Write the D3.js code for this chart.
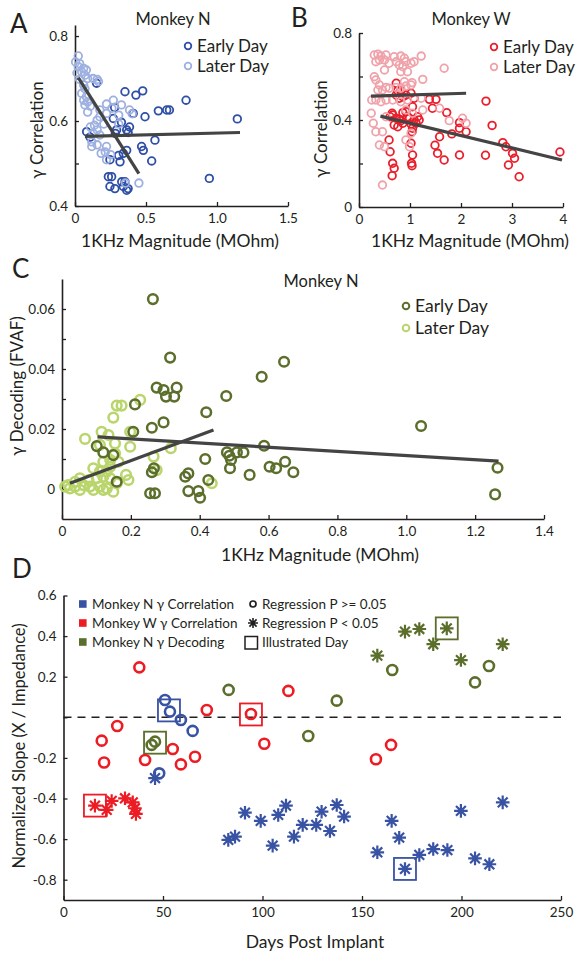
<!DOCTYPE html>
<html lang="en">
  <head>
    <meta charset="UTF-8" />
    <title>Impedance vs gamma</title>
    <style>
      body { margin: 0; background: #fff; }
      svg text { font-family: Lato, "Open Sans", sans-serif; fill: #231f20; }
    </style>
  </head>
  <body>
    <div class="chart"></div>
    <script src="https://d3js.org/d3.v7.min.js"></script>
    <script>
      // ---- panel A: Monkey N, gamma correlation vs 1KHz magnitude
      const aEarly = [
        [0.352,0.669],[0.429,0.661],[0.477,0.671],[0.782,0.649],[0.587,0.624],[0.646,0.626],[0.665,0.626],
        [0.493,0.610],[0.410,0.618],[0.270,0.606],[1.143,0.605],[0.364,0.579],[0.374,0.573],[0.293,0.579],
        [0.284,0.571],[0.563,0.555],[0.469,0.540],[0.481,0.531],[0.540,0.506],[0.364,0.531],[0.340,0.524],
        [0.317,0.504],[0.246,0.509],[0.082,0.575],[0.106,0.562],[0.235,0.469],[0.258,0.469],[0.246,0.446],
        [0.281,0.441],[0.329,0.457],[0.352,0.457],[0.340,0.446],[0.364,0.437],[0.374,0.441],[0.946,0.465],
        [0.152,0.689],[0.279,0.632],[0.384,0.586],[0.308,0.519],[0.327,0.597]
      ];
      const aLater = [
        [0.023,0.753],[0.004,0.739],[0.033,0.735],[0.023,0.728],[0.061,0.724],[0.080,0.720],[0.047,0.716],
        [0.014,0.713],[0.070,0.708],[0.089,0.700],[0.033,0.698],[0.127,0.700],[0.156,0.698],[0.165,0.693],
        [0.061,0.685],[0.070,0.676],[0.047,0.665],[0.080,0.657],[0.061,0.649],[0.089,0.645],[0.070,0.638],
        [0.108,0.635],[0.089,0.621],[0.175,0.626],[0.222,0.640],[0.260,0.630],[0.327,0.638],[0.308,0.614],
        [0.222,0.618],[0.175,0.610],[0.156,0.602],[0.203,0.593],[0.137,0.590],[0.108,0.586],[0.156,0.579],
        [0.127,0.571],[0.175,0.567],[0.118,0.551],[0.156,0.544],[0.118,0.540],[0.222,0.540],[0.213,0.527],
        [0.184,0.524],[0.251,0.521],[0.222,0.509],[0.384,0.626],[0.403,0.617],[0.355,0.454],[0.450,0.454],
        [0.270,0.649],[0.308,0.593]
      ];
      const aFitEarly = [[0.070,0.564],[1.162,0.573]];
      const aFitLater = [[0.023,0.702],[0.450,0.476]];
      const aXTicks = [0, 0.5, 1.0, 1.5];
      const aXLabels = ["0", "0.5", "1.0", "1.5"];
      const aYTicks = [0.4, 0.5, 0.6, 0.7, 0.8];
      const aYLabels = ["0.4", "", "0.6", "", "0.8"];

      // ---- panel B: Monkey W
      const bEarly = [
        [0.73,0.569],[0.76,0.535],[0.82,0.535],[0.73,0.515],[0.79,0.50],[0.86,0.507],[0.92,0.515],
        [1.02,0.523],[1.08,0.50],[1.05,0.461],[0.92,0.438],[0.86,0.434],[0.65,0.431],[0.66,0.423],
        [0.61,0.415],[0.73,0.408],[0.79,0.403],[0.82,0.397],[0.86,0.385],[0.69,0.377],[0.76,0.369],
        [0.95,0.415],[0.99,0.408],[1.02,0.382],[1.08,0.40],[1.12,0.385],[1.15,0.415],[1.18,0.40],
        [1.05,0.362],[1.04,0.346],[0.59,0.308],[0.61,0.254],[0.66,0.201],[0.69,0.178],[0.65,0.144],
        [1.02,0.293],[1.05,0.239],[1.03,0.201],[1.04,0.19],[1.38,0.495],[1.51,0.495],[1.44,0.454],
        [1.72,0.434],[1.82,0.336],[1.49,0.284],[1.54,0.247],[1.58,0.323],[1.67,0.216],[1.97,0.388],
        [1.97,0.239],[2.10,0.346],[2.49,0.487],[2.61,0.375],[2.48,0.238],[2.82,0.296],[2.88,0.277],
        [2.93,0.193],[3.01,0.247],[3.05,0.224],[3.14,0.139],[3.94,0.253],[1.97,0.362]
      ];
      const bLater = [
        [0.30,0.699],[0.37,0.703],[0.43,0.694],[0.53,0.699],[0.69,0.691],[0.82,0.694],[0.89,0.684],
        [0.92,0.668],[1.02,0.661],[1.08,0.668],[1.22,0.694],[0.33,0.668],[0.40,0.676],[0.50,0.676],
        [0.59,0.661],[0.73,0.668],[0.79,0.653],[0.86,0.645],[0.50,0.63],[0.82,0.622],[0.95,0.622],
        [1.25,0.587],[1.67,0.638],[0.30,0.599],[0.33,0.584],[0.40,0.561],[0.37,0.538],[0.53,0.55],
        [0.59,0.546],[0.73,0.55],[0.82,0.546],[0.92,0.556],[1.02,0.561],[0.89,0.576],[1.04,0.572],
        [0.33,0.492],[0.43,0.484],[0.53,0.492],[0.66,0.492],[0.82,0.484],[0.95,0.492],[1.22,0.50],
        [1.58,0.454],[2.03,0.408],[2.10,0.385],[1.77,0.397],[0.24,0.431],[0.28,0.385],[0.33,0.346],
        [0.46,0.346],[0.40,0.285],[0.50,0.277],[0.92,0.308],[0.99,0.277],[1.02,0.339],[0.53,0.415],
        [0.46,0.101],[0.92,0.446],[1.05,0.431],[1.25,0.446],[0.46,0.538],[0.25,0.492]
      ];
      const bFitEarly = [[0.42,0.418],[3.98,0.216]];
      const bFitLater = [[0.235,0.510],[2.10,0.523]];
      const bXTicks = [0, 1, 2, 3, 4];
      const bXLabels = ["0", "1", "2", "3", "4"];
      const bYTicks = [0, 0.2, 0.4, 0.6, 0.8];
      const bYLabels = ["0", "", "0.4", "", "0.8"];

      // ---- panel C: Monkey N, gamma decoding
      const cEarly = [
        [0.264,0.0633],[0.314,0.0438],[0.275,0.0338],[0.295,0.033],[0.302,0.0308],[0.326,0.0308],
        [0.333,0.0338],[0.212,0.0282],[0.261,0.0204],[0.295,0.0222],[0.207,0.0191],[0.101,0.0143],
        [0.12,0.0122],[0.149,0.0113],[0.159,0.0024],[0.261,0.0056],[0.267,0.0069],[0.256,-0.0014],
        [0.27,-0.0014],[0.358,0.0041],[0.367,0.0052],[0.367,-0.0007],[0.396,-0.0007],[0.401,-0.0029],
        [0.419,0.0256],[0.416,0.01],[0.425,0.003],[0.477,0.031],[0.479,0.0122],[0.486,0.0111],
        [0.491,0.0097],[0.488,0.0069],[0.508,0.0122],[0.527,0.0122],[0.545,0.0047],[0.58,0.0374],
        [0.587,0.0144],[0.603,0.0074],[0.622,0.0069],[0.648,0.0091],[0.645,0.0424],[0.672,0.0056],
        [1.043,0.021],[1.265,0.0071],[1.258,-0.0018]
      ];
      const cLater = [
        [0.067,0.0167],[0.115,0.0191],[0.135,0.018],[0.149,0.0238],[0.159,0.0278],[0.173,0.0278],
        [0.227,0.0297],[0.198,0.0191],[0.198,0.0141],[0.154,0.0119],[0.164,0.0091],[0.14,0.0097],
        [0.266,0.0108],[0.275,0.0063],[0.316,0.0136],[0.186,0.0047],[0.193,0.003],[0.435,0.0019],
        [0.009,0.0008],[0.023,0.0002],[0.038,0.0008],[0.052,-0.0003],[0.062,0.0013],[0.081,0.0008],
        [0.091,-0.0003],[0.11,0.0008],[0.12,-0.0003],[0.13,0.0002],[0.149,-0.0009],[0.077,0.003],
        [0.101,0.0036],[0.12,0.0041],[0.052,0.0036],[0.038,0.0024],[0.018,0.0013],[0.14,0.0036],
        [0.159,0.0019],[0.11,0.0058],[0.091,0.0069],[0.13,0.0058],[0.12,0.0091],[0.14,0.0074],
        [0.154,0.0152],[0.11,0.0147]
      ];
      const cFitEarly = [[0.103,0.0174],[1.268,0.0093]];
      const cFitLater = [[0.023,0.0019],[0.44,0.0197]];
      const cXTicks = [0, 0.2, 0.4, 0.6, 0.8, 1.0, 1.2, 1.4];
      const cXLabels = ["0", "0.2", "0.4", "0.6", "0.8", "1.0", "1.2", "1.4"];
      const cYTicks = [0, 0.01, 0.02, 0.03, 0.04, 0.05, 0.06];
      const cYLabels = ["0", "", "0.02", "", "0.04", "", "0.06"];

      // ---- panel D: normalized slope vs days post implant
      const dNCorrCircle = [[51.0,0.085],[53.5,0.028],[59.0,-0.013],[64.9,-0.067],[48.1,-0.276]];
      const dNCorrStar = [
        [46.0,-0.30],[82.8,-0.604],[86.2,-0.588],[91.2,-0.47],[99.1,-0.51],[105.1,-0.632],[107.9,-0.481],
        [111.8,-0.435],[115.8,-0.588],[120.2,-0.53],[127.0,-0.53],[129.7,-0.465],[133.9,-0.56],
        [137.3,-0.432],[141.0,-0.489],[157.7,-0.665],[164.9,-0.51],[168.7,-0.593],[171.6,-0.747],
        [178.8,-0.678],[185.8,-0.649],[192.9,-0.654],[199.7,-0.461],[206.8,-0.695],[214.0,-0.724],
        [220.7,-0.419]
      ];
      const dWCorrCircle = [
        [38.1,0.246],[27.0,-0.043],[19.2,-0.115],[20.4,-0.223],[41.0,-0.21],[54.9,-0.156],[59.0,-0.232],
        [66.1,-0.194],[72.0,0.036],[94.2,0.016],[100.9,-0.13],[113.0,0.13],[157.0,-0.207],[164.6,-0.136]
      ];
      const dWCorrStar = [[15.8,-0.435],[21.7,-0.456],[24.2,-0.412],[30.9,-0.399],[34.8,-0.419],[35.9,-0.448],[36.4,-0.476]];
      const dNDecCircle = [[83.0,0.135],[46.0,-0.12],[44.3,-0.136],[137.3,0.082],[123.0,-0.092],[165.2,0.233],[206.8,0.172],[213.8,0.253]];
      const dNDecStar = [[157.7,0.304],[171.6,0.422],[178.8,0.435],[185.8,0.36],[192.6,0.438],[199.7,0.282],[220.7,0.36]];
      const dNCorrDays = [[53.0,0.034],[171.6,-0.747]];
      const dWCorrDays = [[15.8,-0.435],[94.2,0.014]];
      const dNDecDays = [[46.0,-0.125],[192.6,0.438]];
      const dXTicks = [0, 50, 100, 150, 200, 250];
      const dYTicks = [-0.8, -0.6, -0.4, -0.2, 0, 0.2, 0.4, 0.6];
      const dYLabels = ["-0.8", "-0.6", "-0.4", "-0.2", "", "0.2", "0.4", "0.6"];

      const dark = "#231f20";
      const fitColor = "#444";

      const svg = d3.select(".chart").append("svg").attr("width", 576).attr("height", 954);

      const starPath = (s) => {
        const d = s * 0.72;
        return `M${-s},0H${s}M0,${-s}V${s}M${-d},${-d}L${d},${d}M${-d},${d}L${d},${-d}`;
      };

      const drawAxes = (xScale, yScale, xTicks, xLabels, yTicks, yLabels) => {
        const y0 = yScale.range()[0];
        const x0 = xScale.range()[0];
        const xAxis = svg
          .append("g")
          .attr("transform", `translate(0,${y0})`)
          .call(
            d3.axisBottom(xScale).tickValues(xTicks).tickFormat((d, i) => xLabels[i])
              .tickSizeInner(-4).tickSizeOuter(0).tickPadding(7)
          );
        const yAxis = svg
          .append("g")
          .attr("transform", `translate(${x0},0)`)
          .call(
            d3.axisLeft(yScale).tickValues(yTicks).tickFormat((d, i) => yLabels[i])
              .tickSizeInner(-4).tickSizeOuter(0).tickPadding(7)
          );
        [xAxis, yAxis].forEach((a) => {
          a.attr("font-family", null).attr("font-size", 13.5);
          a.select(".domain").attr("stroke", dark).attr("stroke-width", 1.6);
          a.selectAll(".tick line").attr("stroke", dark).attr("stroke-width", 1.3);
          a.selectAll(".tick text").attr("fill", dark);
        });
      };

      const drawCircles = (xScale, yScale, data, color, r, sw) => {
        svg.append("g")
          .selectAll("circle")
          .data(data)
          .join("circle")
          .attr("cx", (d) => xScale(d[0]))
          .attr("cy", (d) => yScale(d[1]))
          .attr("r", r)
          .attr("fill", "none")
          .attr("stroke", color)
          .attr("stroke-width", sw);
      };

      const drawFit = (xScale, yScale, pts) => {
        svg.append("path")
          .attr("d", d3.line().x((d) => xScale(d[0])).y((d) => yScale(d[1]))(pts))
          .attr("fill", "none")
          .attr("stroke", fitColor)
          .attr("stroke-width", 3.2);
      };

      const addText = (x, y, str, size, anchor = "start", rotate = false) => {
        svg.append("text")
          .attr("transform", rotate ? `translate(${x},${y}) rotate(-90)` : `translate(${x},${y})`)
          .attr("text-anchor", anchor)
          .attr("font-size", size)
          .text(str);
      };

      const drawLegend = (x, y, items, r, sw, size, gap) => {
        items.forEach(([label, color], i) => {
          svg.append("circle")
            .attr("cx", x).attr("cy", y + i * gap).attr("r", r)
            .attr("fill", "none").attr("stroke", color).attr("stroke-width", sw);
          svg.append("text")
            .attr("x", x + 9).attr("y", y + i * gap + 6)
            .attr("font-size", size)
            .text(label);
        });
      };

      // A
      const aX = d3.scaleLinear().domain([0, 1.5]).range([75, 288]);
      const aY = d3.scaleLinear().domain([0.4, 0.826]).range([206, 25]);
      drawAxes(aX, aY, aXTicks, aXLabels, aYTicks, aYLabels);
      drawCircles(aX, aY, aEarly, "#2f4fa6", 3.8, 1.8);
      drawCircles(aX, aY, aLater, "#9db0e0", 3.8, 1.8);
      drawFit(aX, aY, aFitEarly);
      drawFit(aX, aY, aFitLater);
      addText(10, 33, "A", 26);
      addText(173, 25, "Monkey N", 16.5, "middle");
      drawLegend(188, 46, [["Early Day", "#2f4fa6"], ["Later Day", "#9db0e0"]], 3.3, 1.8, 17, 20);
      addText(43, 130, "\u03b3 Correlation", 17, "middle", true);
      addText(180, 247, "1KHz Magnitude (MOhm)", 17.5, "middle");

      // B
      const bX = d3.scaleLinear().domain([0, 4]).range([359, 563]);
      const bY = d3.scaleLinear().domain([0, 0.8]).range([207, 33]);
      drawAxes(bX, bY, bXTicks, bXLabels, bYTicks, bYLabels);
      drawCircles(bX, bY, bEarly, "#ea1f2b", 3.8, 1.8);
      drawCircles(bX, bY, bLater, "#f0a2aa", 3.8, 1.8);
      drawFit(bX, bY, bFitEarly);
      drawFit(bX, bY, bFitLater);
      addText(291, 27, "B", 26);
      addText(471, 25, "Monkey W", 16.5, "middle");
      drawLegend(494, 47, [["Early Day", "#ea1f2b"], ["Later Day", "#f0a2aa"]], 3.3, 1.8, 17, 20);
      addText(327, 129, "\u03b3 Correlation", 17, "middle", true);
      addText(470, 247, "1KHz Magnitude (MOhm)", 17.5, "middle");

      // C
      const cX = d3.scaleLinear().domain([0, 1.4]).range([62, 544]);
      const cY = d3.scaleLinear().domain([-0.01, 0.07]).range([519, 279]);
      drawAxes(cX, cY, cXTicks, cXLabels, cYTicks, cYLabels);
      drawCircles(cX, cY, cLater, "#b9d56b", 4.8, 2.5);
      drawCircles(cX, cY, cEarly, "#5b6e2b", 4.8, 2.5);
      drawFit(cX, cY, cFitEarly);
      drawFit(cX, cY, cFitLater);
      addText(12, 278, "C", 26);
      addText(321, 287, "Monkey N", 16.5, "middle");
      drawLegend(406, 306, [["Early Day", "#5b6e2b"], ["Later Day", "#b9d56b"]], 3.3, 2, 17.5, 22);
      addText(23, 386, "\u03b3 Decoding (FVAF)", 17, "middle", true);
      addText(320, 561, "1KHz Magnitude (MOhm)", 17.5, "middle");

      // D
      const dX = d3.scaleLinear().domain([0, 250]).range([63.5, 561]);
      const dY = d3.scaleLinear().domain([-0.9, 0.6]).range([900, 595.5]);
      drawAxes(dX, dY, dXTicks, dXTicks.map(String), dYTicks, dYLabels);
      svg.append("line")
        .attr("x1", dX(0)).attr("x2", dX(250)).attr("y1", dY(0)).attr("y2", dY(0))
        .attr("stroke", dark).attr("stroke-width", 1.5).attr("stroke-dasharray", "8,6");

      const dGroups = [
        { circ: dNDecCircle, star: dNDecStar, days: dNDecDays, color: "#5b6e2b" },
        { circ: dWCorrCircle, star: dWCorrStar, days: dWCorrDays, color: "#ed1c24" },
        { circ: dNCorrCircle, star: dNCorrStar, days: dNCorrDays, color: "#3953a4" },
      ];
      dGroups.forEach((grp) => {
        drawCircles(dX, dY, grp.circ, grp.color, 5, 2.6);
        svg.append("g")
          .selectAll("path")
          .data(grp.star)
          .join("path")
          .attr("transform", (d) => `translate(${dX(d[0])},${dY(d[1])})`)
          .attr("d", starPath(6.8))
          .attr("fill", "none")
          .attr("stroke", grp.color)
          .attr("stroke-width", 2.2);
        svg.append("g")
          .selectAll("rect")
          .data(grp.days)
          .join("rect")
          .attr("x", (d) => dX(d[0]) - 11)
          .attr("y", (d) => dY(d[1]) - 11)
          .attr("width", 22)
          .attr("height", 22)
          .attr("fill", "none")
          .attr("stroke", grp.color)
          .attr("stroke-width", 1.8);
      });

      // D legend
      const dLegend = [
        ["Monkey N \u03b3 Correlation", "#3953a4"],
        ["Monkey W \u03b3 Correlation", "#ed1c24"],
        ["Monkey N \u03b3 Decoding", "#5b6e2b"],
      ];
      dLegend.forEach(([label, color], i) => {
        const cy = 604 + i * 19;
        svg.append("rect").attr("x", 79).attr("y", cy - 3.8).attr("width", 7.6).attr("height", 7.6).attr("fill", color);
        svg.append("text").attr("x", 92).attr("y", cy + 5).attr("font-size", 13.5).text(label);
      });
      svg.append("circle").attr("cx", 253).attr("cy", 604).attr("r", 3)
        .attr("fill", "none").attr("stroke", dark).attr("stroke-width", 1.7);
      svg.append("path").attr("transform", "translate(253,623)").attr("d", starPath(5))
        .attr("fill", "none").attr("stroke", dark).attr("stroke-width", 1.6);
      svg.append("rect").attr("x", 245).attr("y", 636.5).attr("width", 12.5).attr("height", 12.5)
        .attr("fill", "none").attr("stroke", dark).attr("stroke-width", 1.5);
      ["Regression P >= 0.05", "Regression P < 0.05", "Illustrated Day"].forEach((label, i) => {
        svg.append("text").attr("x", 262).attr("y", 609 + i * 19).attr("font-size", 13.5).text(label);
      });

      addText(12, 578, "D", 26);
      addText(25, 746, "Normalized Slope (X / Impedance)", 16.5, "middle", true);
      addText(315, 948, "Days Post Implant", 17.5, "middle");
    </script>
  </body>
</html>
